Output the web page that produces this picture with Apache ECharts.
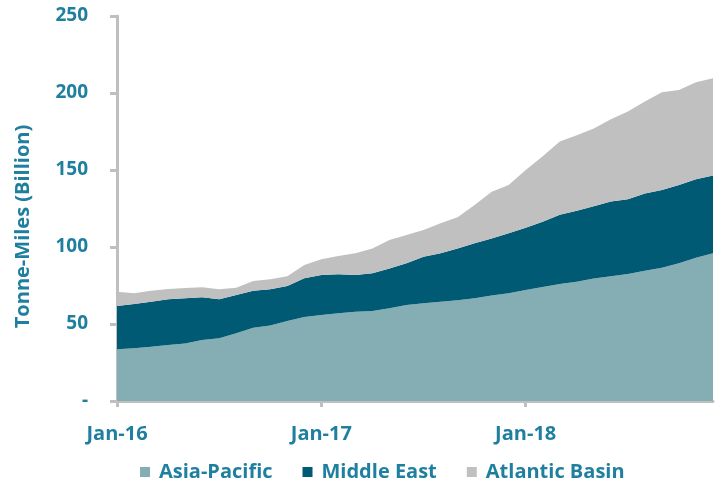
<!DOCTYPE html>
<html>
<head>
<meta charset="utf-8">
<script src="https://cdn.jsdelivr.net/npm/echarts@6/dist/echarts.min.js"></script>
<style>
  html, body { margin: 0; padding: 0; background: #fff; }
  #chart { width: 716px; height: 482px; }
</style>
</head>
<body>
<div id="chart"></div>
<script>
// Monthly tonne-miles by region, Jan 2016 – Dec 2018 (billion)
const months = [
  'Jan-16','Feb-16','Mar-16','Apr-16','May-16','Jun-16','Jul-16','Aug-16','Sep-16','Oct-16','Nov-16','Dec-16',
  'Jan-17','Feb-17','Mar-17','Apr-17','May-17','Jun-17','Jul-17','Aug-17','Sep-17','Oct-17','Nov-17','Dec-17',
  'Jan-18','Feb-18','Mar-18','Apr-18','May-18','Jun-18','Jul-18','Aug-18','Sep-18','Oct-18','Nov-18','Dec-18'
];
const asiaPacific = [
  33.6, 34.2, 35.3, 36.4, 37.4, 39.6, 40.7, 44.0, 47.5, 49.0, 52.0, 54.5,
  55.8, 57.0, 58.0, 58.5, 60.2, 62.3, 63.5, 64.5, 65.5, 66.7, 68.5, 70.0,
  72.0, 74.0, 76.0, 77.5, 79.5, 81.0, 82.5, 84.5, 86.5, 89.5, 93.0, 96.0
];
const middleEast = [
  28.1, 28.8, 29.2, 29.6, 29.3, 27.7, 25.3, 24.8, 24.1, 23.5, 22.7, 25.2,
  26.0, 25.3, 23.8, 24.4, 25.9, 27.1, 30.2, 31.4, 33.6, 35.7, 37.1, 38.9,
  40.5, 42.4, 45.0, 46.0, 47.0, 48.5, 48.5, 50.3, 50.5, 50.8, 51.0, 50.5
];
const atlanticBasin = [
  9.3, 7.0, 7.1, 6.7, 6.7, 6.5, 6.5, 4.7, 6.4, 6.5, 6.3, 8.6,
  10.2, 11.9, 14.1, 16.2, 18.4, 18.4, 17.3, 19.5, 20.2, 24.9, 30.3, 31.4,
  37.5, 42.6, 47.5, 49.0, 50.5, 53.5, 57.0, 59.7, 63.5, 61.7, 63.0, 63.0
];
const yTicks = [0, 50, 100, 150, 200, 250];

const textColor = '#1F7F9F';
const axisGray = '#BFBFBF';
const font = '"Open Sans", Lato, sans-serif';

function areaSeries(name, data, color) {
  return {
    name, type: 'line', stack: 'total', data,
    showSymbol: false, symbol: 'none',
    lineStyle: { width: 0 },
    areaStyle: { color, opacity: 1 },
    itemStyle: { color },
    emphasis: { disabled: true }
  };
}

const chart = echarts.init(document.getElementById('chart'), null, { renderer: 'canvas' });
chart.setOption({
  animation: false,
  grid: { left: 117, right: 3, top: 16, bottom: 81 },
  legend: {
    top: 457, left: 135,
    icon: 'rect', itemWidth: 10, itemHeight: 10, itemGap: 30,
    textStyle: {
      color: textColor, fontSize: 20, fontWeight: 'bold', fontFamily: font,
      padding: [0, 0, 0, 4]
    },
    data: ['Asia-Pacific', 'Middle East', 'Atlantic Basin']
  },
  xAxis: {
    type: 'category', data: months, boundaryGap: false,
    axisLine: { lineStyle: { color: axisGray, width: 3 } },
    axisTick: { interval: i => i % 12 === 0, length: 6, lineStyle: { color: axisGray, width: 3 } },
    axisLabel: {
      interval: i => i % 12 === 0,
      color: textColor, fontSize: 20, fontWeight: 'bold', fontFamily: font, margin: 23
    },
    splitLine: { show: false }
  },
  yAxis: {
    type: 'value', min: yTicks[0], max: yTicks[yTicks.length - 1], interval: 50,
    name: 'Tonne-Miles (Billion)', nameLocation: 'middle', nameGap: 84,
    nameTextStyle: {
      color: textColor, fontSize: 20, fontWeight: 'bold', fontFamily: font,
      padding: [0, 36, 0, 0]
    },
    axisLine: { show: true, lineStyle: { color: axisGray, width: 3 } },
    axisTick: { show: true, length: 7, lineStyle: { color: axisGray, width: 3 } },
    axisLabel: {
      color: textColor, fontSize: 19, fontWeight: 'bold', fontFamily: font, margin: 29,
      formatter: v => (v === 0 ? '-' : String(v))
    },
    splitLine: { show: false }
  },
  series: [
    areaSeries('Asia-Pacific', asiaPacific, '#84AEB4'),
    areaSeries('Middle East', middleEast, '#005A73'),
    areaSeries('Atlantic Basin', atlanticBasin, '#C0C0C0')
  ]
});
</script>
</body>
</html>
